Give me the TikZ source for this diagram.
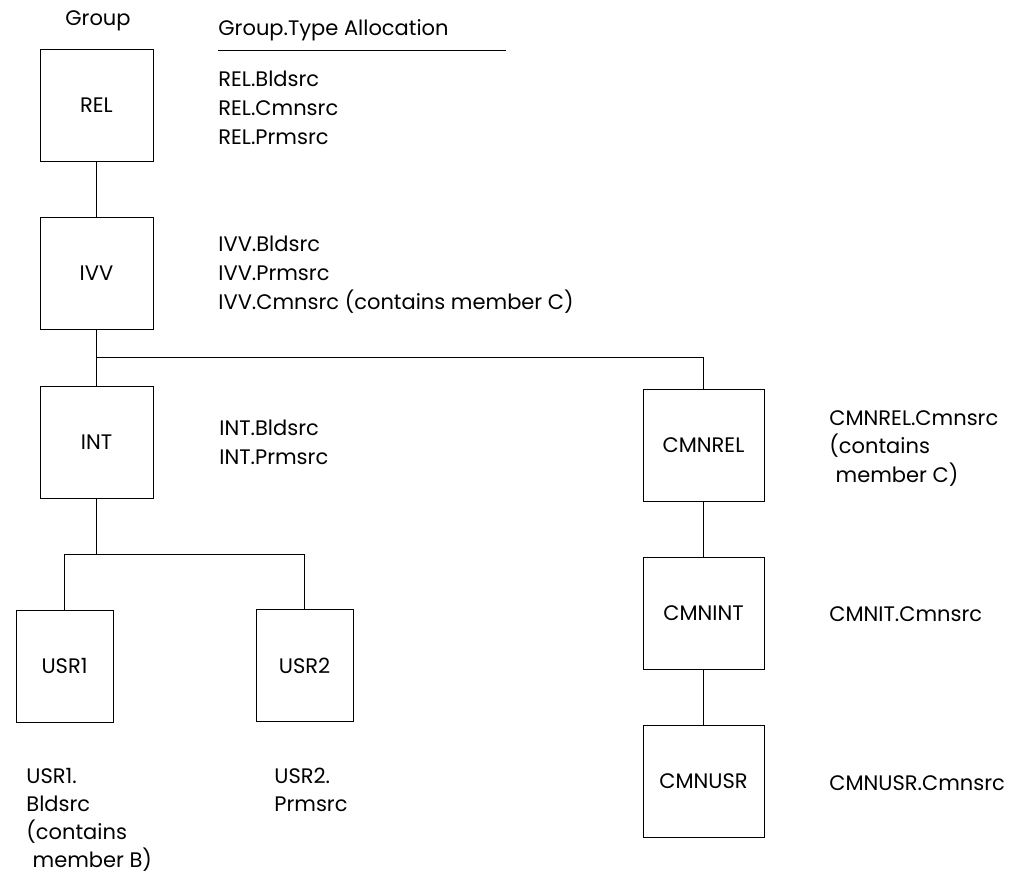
\documentclass[tikz,border=0pt]{standalone}
\usepackage{fontspec}
\setmainfont{Poppins}
\usetikzlibrary{calc}

\def \lineW {0.8pt}
\def \textF {\fontsize{21}{28.7}\selectfont}
\tikzset{
  grp/.style={draw, line width=\lineW, minimum height=112pt, inner sep=0pt, font=\textF},
  grpnarrow/.style={grp, minimum width=97pt},
  grpwide/.style={grp, minimum width=121pt},
  grpmain/.style={grp, minimum width=113pt},
  alloc/.style={anchor=north west, align=left, inner sep=0pt, font=\textF},
}

\begin{document}
\begin{tikzpicture}[x=1pt, y=-1pt, line width=\lineW]
   \useasboundingbox (0,0) rectangle (1021,877);
   % headings
   \node[anchor=north, inner sep=0pt, font=\textF] (grouphead) at (98, 10) {Group};
   \node[alloc] (allochead) at (218, 19) {Group.Type Allocation};
   \coordinate (ruleA) at (218, 50);
   \coordinate (ruleB) at (506, 50);
   \draw (ruleA) -- (ruleB);

   % group boxes
   \node[grpmain] (rel) at (96.5, 105) {REL};
   \node[grpmain] (ivv) at (96.5, 273) {IVV};
   \node[grpmain] (int) at (96.5, 442) {INT};
   \node[grpnarrow] (usr1) at (64.5, 666) {USR1};
   \node[grpnarrow] (usr2) at (304.5, 665.5) {USR2};
   \node[grpwide] (cmnrel) at (703.5, 445) {CMNREL};
   \node[grpwide] (cmnint) at (703.5, 613) {CMNINT};
   \node[grpwide] (cmnusr) at (703.5, 781) {CMNUSR};

   % connectors
   \coordinate (split) at ($(ivv.south)!0.5!(int.north)$);
   \coordinate (fork) at ($(int.south)!0.5!(int.south |- usr1.north)$);
   \draw (rel.south) -- (ivv.north);
   \draw (ivv.south) -- (int.north);
   \draw (split) -| (cmnrel.north);
   \draw (int.south) -- (fork);
   \draw (fork) -| (usr1.north);
   \draw (fork) -| (usr2.north);
   \draw (cmnrel.south) -- (cmnint.north);
   \draw (cmnint.south) -- (cmnusr.north);

   % allocations
   \node[alloc] (relalloc) at (218, 71) {REL.Bldsrc\\REL.Cmnsrc\\REL.Prmsrc};
   \node[alloc] (ivvalloc) at (218, 236) {IVV.Bldsrc\\IVV.Prmsrc\\IVV.Cmnsrc (contains member C)};
   \node[alloc] (intalloc) at (219, 420) {INT.Bldsrc\\INT.Prmsrc};
   \node[alloc, font=\fontsize{21}{28}\selectfont] (usr1alloc) at (26, 768) {USR1.\\Bldsrc\\(contains\\\hspace{0.3em}member B)};
   \node[alloc, font=\fontsize{21}{28}\selectfont] (usr2alloc) at (274, 768) {USR2.\\Prmsrc};
   \node[alloc] (cmnrelalloc) at (829, 410) {CMNREL.Cmnsrc\\(contains\\\hspace{0.3em}member C)};
   \node[alloc] (cmnintalloc) at (829, 606) {CMNIT.Cmnsrc};
   \node[alloc] (cmnusralloc) at (829, 775) {CMNUSR.Cmnsrc};
\end{tikzpicture}
\end{document}
